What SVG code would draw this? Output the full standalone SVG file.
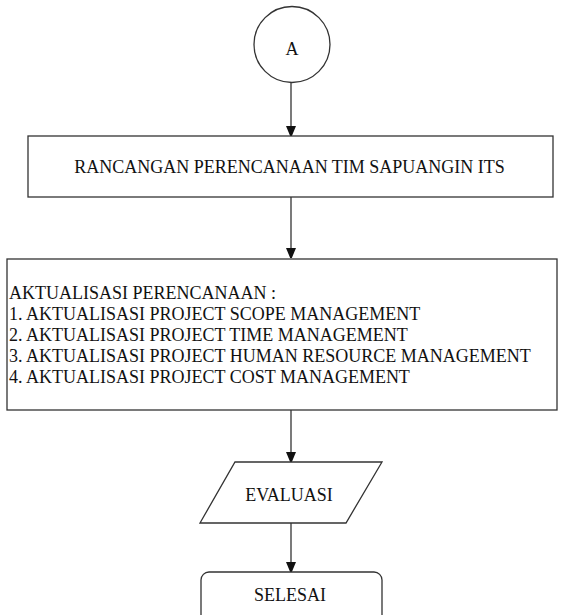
<svg xmlns="http://www.w3.org/2000/svg" width="565" height="615" viewBox="0 0 565 615">
<style>
.s{fill:#fff;stroke:#333;stroke-width:1.3}
.t{font-family:"Liberation Serif","Times New Roman",serif;font-size:18px;fill:#111}
.c{stroke:#333;stroke-width:1.3;fill:none}
</style>
<defs>
<marker id="ah" viewBox="0 0 10 12" refX="10" refY="5" markerWidth="10" markerHeight="12" markerUnits="userSpaceOnUse" orient="auto">
<path d="M0,0 L12,5 L0,10 z" fill="#111"/>
</marker>
</defs>
<rect width="565" height="615" fill="#fff"/>
<g id="connectors">
<line class="c" x1="291" y1="82" x2="291" y2="136" marker-end="url(#ah)"/>
<line class="c" x1="291" y1="197" x2="291" y2="258" marker-end="url(#ah)"/>
<line class="c" x1="291" y1="410" x2="291" y2="462" marker-end="url(#ah)"/>
<line class="c" x1="291" y1="523" x2="291" y2="572" marker-end="url(#ah)"/>
</g>
<g id="start">
<circle class="s" cx="292" cy="44.5" r="38"/>
<text class="t" x="292" y="55" text-anchor="middle">A</text>
</g>
<g id="rancangan">
<rect class="s" x="28" y="136" width="525" height="61"/>
<text class="t" x="289.5" y="173" text-anchor="middle">RANCANGAN PERENCANAAN TIM SAPUANGIN ITS</text>
</g>
<g id="aktualisasi">
<rect class="s" x="7" y="259" width="550" height="151"/>
<text class="t" x="9" y="299">AKTUALISASI PERENCANAAN :</text>
<text class="t" x="9" y="320">1. AKTUALISASI PROJECT SCOPE MANAGEMENT</text>
<text class="t" x="9" y="341">2. AKTUALISASI PROJECT TIME MANAGEMENT</text>
<text class="t" x="9" y="362">3. AKTUALISASI PROJECT HUMAN RESOURCE MANAGEMENT</text>
<text class="t" x="9" y="383">4. AKTUALISASI PROJECT COST MANAGEMENT</text>
</g>
<g id="evaluasi">
<polygon class="s" points="235,462 382,462 346,523 200,523"/>
<text class="t" x="289" y="501" text-anchor="middle">EVALUASI</text>
</g>
<g id="selesai">
<rect class="s" x="201" y="572" width="181" height="60" rx="8"/>
<text class="t" x="290" y="601" text-anchor="middle">SELESAI</text>
</g>
</svg>
